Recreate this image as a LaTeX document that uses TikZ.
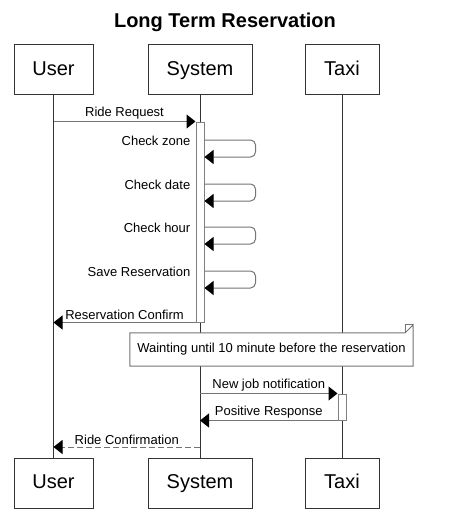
\documentclass[tikz,border=0pt]{standalone}
\usepackage{fontspec}
\setmainfont{Liberation Sans}
\usetikzlibrary{arrows.meta,positioning,calc}
\usepackage{xcolor}

\begin{document}
\begin{tikzpicture}[
    x=1pt, y=-1pt,
    actor/.style={
        draw=black!80, line width=1pt, fill=white,
        minimum height=50pt, inner sep=0pt,
        text height=14.5pt, text depth=4pt,
        font=\fontsize{20}{22}\selectfont
    },
    lifeline/.style={
        draw=black!80, line width=1pt
    },
    activation/.style={
        draw=black!50, line width=1pt, fill=white,
        minimum width=8pt, inner sep=0pt
    },
    msg/.style={
        -{Triangle[length=9pt,width=14pt,black]}, line width=1pt, black!55
    },
    lbl/.style={
        font=\fontsize{13}{15}\selectfont, text=black, inner sep=2pt
    }
]
\useasboundingbox (0,0) rectangle (452,516);

% Title
\node[font=\fontsize{20}{22}\selectfont\bfseries] (title) at (225,22) {Long Term Reservation};

% Participants, top and bottom
\node[actor, minimum width=79pt] (userTop) at (53.5,70) {User};
\node[actor, minimum width=104pt] (sysTop) at (200,70) {System};
\node[actor, minimum width=74pt] (taxiTop) at (342,70) {Taxi};

\node[actor, minimum width=79pt] (userBot) at (53.5,483) {User};
\node[actor, minimum width=104pt] (sysBot) at (200,483) {System};
\node[actor, minimum width=74pt] (taxiBot) at (342,483) {Taxi};

% Lifelines
\draw[lifeline] (userTop.south) -- (userBot.north);
\draw[lifeline] (sysTop.south) -- (sysBot.north);
\draw[lifeline] (taxiTop.south) -- (taxiBot.north);

% Activation bars
\node[activation, minimum height=200pt] (sysAct) at (200,222) {};
\node[activation, minimum height=26pt] (taxiAct) at (342,407) {};

% Request from the user
\draw[msg] (userTop.south |- sysAct.north) -- (sysAct.north west)
    node[lbl, midway, above] {Ride Request};

% Self calls on the system
\foreach \txt/\yy in {Check zone/140, Check date/184, Check hour/227, Save Reservation/271} {
    \draw[msg, rounded corners=5pt] (sysAct.east |- 0,\yy) -- ++(51,0) -- ++(0,17) -- (sysAct.east |- 0,\yy+17);
    \node[lbl, anchor=east] at ($(sysAct.west |- 0,\yy)+(-3,1)$) {\txt};
}

\draw[msg] (sysAct.south west) -- (userTop.south |- sysAct.south)
    node[lbl, midway, above] {Reservation Confirm};

% Waiting note
\node[lbl, minimum width=283pt, minimum height=33pt, fill=white] (note) at (271.5,349.5)
    {Wainting until 10 minute before the reservation};
\draw[black!55, line width=1pt] (note.south west) -- (note.north west)
    -- ([xshift=-8pt]note.north east) -- ([yshift=8pt]note.north east)
    -- (note.south east) -- cycle;
\draw[black!55, line width=0.8pt] ([xshift=-8pt]note.north east) -- ([xshift=-8pt,yshift=8pt]note.north east)
    -- ([yshift=8pt]note.north east);

% Taxi exchange
\draw[msg] (sysTop.south |- taxiAct.north) -- (taxiAct.north west)
    node[lbl, midway, above] {New job notification};
\draw[msg] (taxiAct.south west) -- (sysTop.south |- taxiAct.south)
    node[lbl, midway, above] {Positive Response};

% Final answer to the user
\draw[msg, dash pattern=on 6pt off 3pt] (sysTop.south |- 0,447) -- (userTop.south |- 0,447)
    node[lbl, midway, above] {Ride Confirmation};

\end{tikzpicture}
\end{document}
